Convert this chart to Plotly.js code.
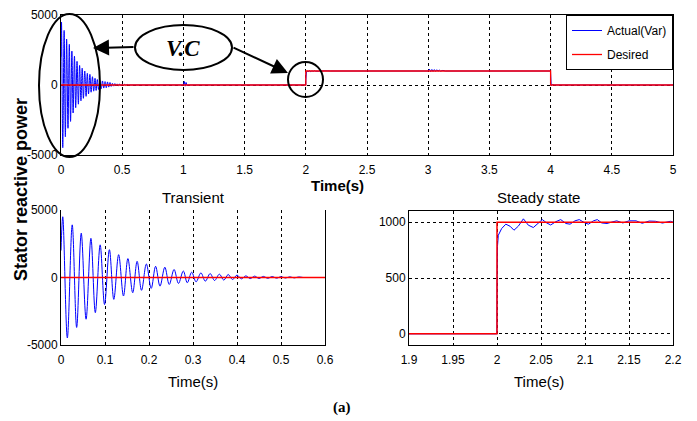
<!DOCTYPE html>
<html><head><meta charset="utf-8">
<script src="https://cdn.plot.ly/plotly-3.0.1.min.js"></script>
<style>html,body{margin:0;padding:0;background:#fff}#chart{width:697px;height:421px}</style>
</head><body><div id="chart"></div>
<script>
// ---- Transient oscillation (peaks / troughs) ----
const transT = [0, 0.004, 0.0144, 0.0255, 0.0356, 0.046, 0.057, 0.068, 0.078, 0.089, 0.099,
  0.110, 0.120, 0.131, 0.142, 0.152, 0.163, 0.173, 0.183, 0.194, 0.205, 0.215, 0.225, 0.236,
  0.246, 0.257, 0.267, 0.278, 0.287, 0.297, 0.307, 0.318, 0.328, 0.339, 0.349, 0.360, 0.370,
  0.380, 0.390, 0.400, 0.410, 0.420, 0.430, 0.440, 0.450, 0.460, 0.470, 0.480, 0.490, 0.500,
  0.510, 0.520, 0.530, 0.540, 0.550];
const transV = [2000, 4500, -4480, 3900, -3700, 3280, -3090, 2900, -2600, 2420, -2000,
  2060, -1620, 1690, -1370, 1400, -1130, 1200, -950, 1000, -810, 830, -640, 760,
  -515, 590, -440, 480, -390, 390, -320, 340, -270, 290, -220, 245, -195,
  220, -150, 180, -100, 120, -80, 100, -70, 80, -60, 70, -50, 60,
  -40, 50, -30, 40, 0];
// ---- small disturbance near t = 1 s ----
const blipT = [0.55, 1.0, 1.008, 1.015, 1.022, 1.03, 1.04, 1.9999];
const blipV = [0, 0, 250, -80, 180, -40, 0, 0];
// ---- step response at t = 2 s ----
const stepT = [2.0, 2.0005, 2.0015, 2.0053, 2.010, 2.0148, 2.0193, 2.0242, 2.030, 2.0356,
  2.0413, 2.047, 2.0515, 2.0565, 2.061, 2.067, 2.0724, 2.0784, 2.083, 2.0886, 2.0935, 2.100,
  2.104, 2.1095, 2.114, 2.119, 2.125, 2.130, 2.136, 2.143, 2.150, 2.158, 2.165, 2.173, 2.180,
  2.188, 2.197, 2.2];
const stepV = [350, 780, 883, 943, 982, 964, 928, 964, 1030, 973,
  952, 993, 1023, 993, 975, 1005, 1023, 988, 982, 1012, 1023, 993,
  982, 1012, 1023, 993, 988, 1000, 1012, 993, 1012, 1012, 990, 1010, 1008,
  992, 1008, 1000];
// ---- ripple at t = 3 s ----
const rippleT = [2.99, 3.0, 3.01, 3.02, 3.03, 3.04, 3.05, 3.06, 3.07, 3.08, 3.09, 3.10, 3.12, 3.14, 3.999];
const rippleV = [1000, 1000, 1130, 960, 1110, 970, 1100, 975, 1090, 985, 1070, 990, 1040, 1000, 1000];
// ---- step down at t = 4 s ----
const dropT = [4.0, 4.005, 4.015, 4.03, 5.0];
const dropV = [0, -60, 40, 0, 0];
// ---- desired reference ----
const desiredT = [0, 2, 2, 4, 4, 5];
const desiredV = [0, 0, 1000, 1000, 0, 0];
const transDesT = [0, 0.6];
const transDesV = [0, 0];
const steadyDesT = [1.9, 2.0, 2.0, 2.2];
const steadyDesV = [0, 0, 1000, 1000];
const steadyPreT = [1.9, 1.9999];
const steadyPreV = [0, 0];
// ---- tick labels ----
const topXTicks = [0, 0.5, 1, 1.5, 2, 2.5, 3, 3.5, 4, 4.5, 5];
const topXText = ['0', '0.5', '1', '1.5', '2', '2.5', '3', '3.5', '4', '4.5', '5'];
const bigYTicks = [-5000, 0, 5000];
const bigYText = ['-5000', '0', '5000'];
const trXTicks = [0, 0.1, 0.2, 0.3, 0.4, 0.5, 0.6];
const trXText = ['0', '0.1', '0.2', '0.3', '0.4', '0.5', '0.6'];
const stXTicks = [1.9, 1.95, 2, 2.05, 2.1, 2.15, 2.2];
const stXText = ['1.9', '1.95', '2', '2.05', '2.1', '2.15', '2.2'];
const stYTicks = [0, 500, 1000];
const stYText = ['0', '500', '1000'];

const restT = blipT.concat(stepT, rippleT, dropT);
const restV = blipV.concat(stepV, rippleV, dropV);

const BLUE = '#0000ff', RED = '#ff0000';
const TF = 'Liberation Sans, Arial, sans-serif';

const traces = [
  {x: restT, y: restV, xaxis: 'x', yaxis: 'y', type: 'scatter', mode: 'lines', name: 'Actual(Var)', legendgroup: 'a', line: {color: BLUE, width: 1}},
  {x: transT, y: transV, xaxis: 'x', yaxis: 'y', type: 'scatter', mode: 'lines', showlegend: false, legendgroup: 'a', line: {color: BLUE, width: 1, shape: 'spline', smoothing: 1}},
  {x: desiredT, y: desiredV, xaxis: 'x', yaxis: 'y', type: 'scatter', mode: 'lines', name: 'Desired', line: {color: RED, width: 1.3}},
  {x: transT, y: transV, xaxis: 'x2', yaxis: 'y2', type: 'scatter', mode: 'lines', showlegend: false, line: {color: BLUE, width: 1, shape: 'spline', smoothing: 1}},
  {x: transDesT, y: transDesV, xaxis: 'x2', yaxis: 'y2', type: 'scatter', mode: 'lines', showlegend: false, line: {color: RED, width: 1.5}},
  {x: steadyPreT.concat(stepT), y: steadyPreV.concat(stepV), xaxis: 'x3', yaxis: 'y3', type: 'scatter', mode: 'lines', showlegend: false, line: {color: BLUE, width: 1}},
  {x: steadyDesT, y: steadyDesV, xaxis: 'x3', yaxis: 'y3', type: 'scatter', mode: 'lines', showlegend: false, line: {color: RED, width: 1.5}}
];

function ax(extra) {
  return Object.assign({
    showline: true, mirror: true, linecolor: '#000', linewidth: 1,
    showgrid: true, gridcolor: '#000', gridwidth: 1, griddash: '3px,3px',
    zeroline: false, ticks: '', tickmode: 'array',
    tickfont: {family: TF, size: 12, color: '#000'}, fixedrange: true
  }, extra);
}
const W = 697, H = 421;
const px = v => v / W, py = v => 1 - v / H;
function txt(x, y, text, font, extra) {
  return Object.assign({xref: 'paper', yref: 'paper', x: px(x), y: py(y), text: text, showarrow: false,
    xanchor: 'center', yanchor: 'middle', font: font}, extra || {});
}

const layout = {
  width: W, height: H, margin: {l: 0, r: 0, t: 0, b: 0},
  paper_bgcolor: '#fff', plot_bgcolor: '#fff',
  showlegend: true,
  legend: {x: px(673), y: py(15), xanchor: 'right', yanchor: 'top', bgcolor: '#fff',
    bordercolor: '#000', borderwidth: 1, font: {family: TF, size: 12, color: '#000'},
    tracegroupgap: 5, itemwidth: 30},
  xaxis: ax({domain: [px(61), px(673)], range: [0, 5], tickvals: topXTicks, ticktext: topXText, anchor: 'y', ticklabelstandoff: 4}),
  yaxis: ax({domain: [py(155), py(15)], range: [-5000, 5000], tickvals: bigYTicks, ticktext: bigYText, anchor: 'x'}),
  xaxis2: ax({domain: [px(61), px(325)], range: [0, 0.6], tickvals: trXTicks, ticktext: trXText, anchor: 'y2', ticklabelstandoff: 4, mirror: false}),
  yaxis2: ax({domain: [py(345), py(210)], range: [-5000, 5000], tickvals: bigYTicks, ticktext: bigYText, anchor: 'x2'}),
  xaxis3: ax({domain: [px(409), px(673)], range: [1.9, 2.2], tickvals: stXTicks, ticktext: stXText, anchor: 'y3', ticklabelstandoff: 4}),
  yaxis3: ax({domain: [py(345), py(211)], range: [-100, 1100], tickvals: stYTicks, ticktext: stYText, anchor: 'x3'}),
  shapes: [
    {type: 'circle', xref: 'paper', yref: 'paper', x0: px(135), x1: px(232), y0: py(70), y1: py(25), line: {color: '#000', width: 2}, fillcolor: 'rgba(0,0,0,0)', layer: 'above'},
    {type: 'circle', xref: 'paper', yref: 'paper', x0: px(39), x1: px(100), y0: py(157), y1: py(14), line: {color: '#000', width: 2}, fillcolor: 'rgba(0,0,0,0)', layer: 'above'},
    {type: 'circle', xref: 'paper', yref: 'paper', x0: px(288), x1: px(323), y0: py(97), y1: py(62), line: {color: '#000', width: 2}, fillcolor: 'rgba(0,0,0,0)', layer: 'above'}
  ],
  annotations: [
    txt(183, 48, '<b><i>V.C</i></b>', {family: 'Liberation Serif, Times New Roman, serif', size: 23, color: '#000'}),
    {xref: 'paper', yref: 'paper', x: px(93), y: py(48), text: '', showarrow: true, axref: 'pixel', ayref: 'pixel',
      ax: 42, ay: -1, arrowhead: 2, arrowsize: 1.6, arrowwidth: 2, arrowcolor: '#000'},
    {xref: 'paper', yref: 'paper', x: px(288), y: py(73), text: '', showarrow: true, axref: 'pixel', ayref: 'pixel',
      ax: -56, ay: -26, arrowhead: 2, arrowsize: 1.6, arrowwidth: 2, arrowcolor: '#000'},
    txt(21, 190, '<b>Stator reactive power</b>', {family: TF, size: 18, color: '#000'}, {textangle: -90}),
    txt(337, 185, '<b>Time(s)</b>', {family: TF, size: 15, color: '#000'}),
    txt(193, 197, 'Transient', {family: TF, size: 15, color: '#000'}),
    txt(538, 197, 'Steady state', {family: TF, size: 15, color: '#000'}),
    txt(193, 381, 'Time(s)', {family: TF, size: 15, color: '#000'}),
    txt(539, 381, 'Time(s)', {family: TF, size: 15, color: '#000'}),
    txt(342, 407, '<b>(a)</b>', {family: 'Liberation Serif, Times New Roman, serif', size: 15, color: '#000'})
  ]
};

Plotly.newPlot('chart', traces, layout, {displayModeBar: false, staticPlot: true});
</script>
</body></html>
